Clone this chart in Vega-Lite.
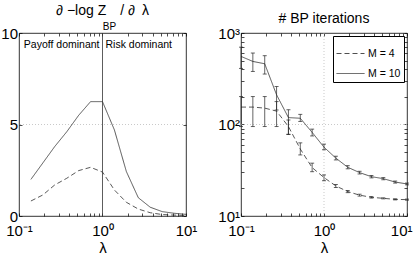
{
  "$schema": "https://vega.github.io/schema/vega-lite/v6.json",
  "padding": {"left": 0, "top": 3, "right": 0, "bottom": 0},
  "spacing": 55,
  "bounds": "flush",
  "resolve": {"scale": {"strokeDash": "independent"}, "legend": {"strokeDash": "independent"}},
  "config": {
    "font": "Liberation Sans",
    "view": {"stroke": "black", "strokeWidth": 0.8},
    "axis": {
      "domain": false,
      "grid": false,
      "ticks": true,
      "tickColor": "black",
      "tickSize": -3,
      "tickWidth": 0.7,
      "labelFont": "Liberation Sans",
      "labelFontSize": 15,
      "labelColor": "black",
      "labelFlush": false,
      "labelOverlap": false,
      "titleFont": "Liberation Sans",
      "titleFontSize": 15,
      "titleFontWeight": "normal",
      "titleColor": "black"
    },
    "axisX": {"labelPadding": 10, "titlePadding": 2},
    "axisY": {"labelPadding": 4.5},
    "title": {
      "font": "Liberation Sans",
      "fontSize": 14,
      "fontWeight": "normal",
      "color": "black",
      "subtitleFont": "Liberation Sans",
      "subtitleFontSize": 10,
      "subtitleColor": "black"
    }
  },
  "datasets": {
    "left": [
      {"lambda": 0.1389, "M": "M = 10", "value": 2.0},
      {"lambda": 0.1931, "M": "M = 10", "value": 2.9},
      {"lambda": 0.2683, "M": "M = 10", "value": 3.8},
      {"lambda": 0.3728, "M": "M = 10", "value": 4.6},
      {"lambda": 0.5179, "M": "M = 10", "value": 5.5},
      {"lambda": 0.7197, "M": "M = 10", "value": 6.25},
      {"lambda": 1.0, "M": "M = 10", "value": 6.25},
      {"lambda": 1.3895, "M": "M = 10", "value": 4.7},
      {"lambda": 1.9307, "M": "M = 10", "value": 2.43},
      {"lambda": 2.6827, "M": "M = 10", "value": 1.0},
      {"lambda": 3.7276, "M": "M = 10", "value": 0.48},
      {"lambda": 5.1795, "M": "M = 10", "value": 0.24},
      {"lambda": 7.1969, "M": "M = 10", "value": 0.15},
      {"lambda": 10, "M": "M = 10", "value": 0.09},
      {"lambda": 0.1389, "M": "M = 4", "value": 0.82},
      {"lambda": 0.1931, "M": "M = 4", "value": 1.15},
      {"lambda": 0.2683, "M": "M = 4", "value": 1.7},
      {"lambda": 0.3728, "M": "M = 4", "value": 2.06},
      {"lambda": 0.5179, "M": "M = 4", "value": 2.48},
      {"lambda": 0.7197, "M": "M = 4", "value": 2.66},
      {"lambda": 1.0, "M": "M = 4", "value": 2.4},
      {"lambda": 1.3895, "M": "M = 4", "value": 1.42},
      {"lambda": 1.9307, "M": "M = 4", "value": 0.75},
      {"lambda": 2.6827, "M": "M = 4", "value": 0.38},
      {"lambda": 3.7276, "M": "M = 4", "value": 0.18},
      {"lambda": 5.1795, "M": "M = 4", "value": 0.08},
      {"lambda": 7.1969, "M": "M = 4", "value": 0.05},
      {"lambda": 10, "M": "M = 4", "value": 0.03}
    ],
    "right": [
      {"lambda": 0.1, "M": "M = 10", "value": 555, "lo": 410, "hi": 700},
      {"lambda": 0.1389, "M": "M = 10", "value": 489, "lo": 380, "hi": 604},
      {"lambda": 0.1931, "M": "M = 10", "value": 461, "lo": 356, "hi": 565},
      {"lambda": 0.2683, "M": "M = 10", "value": 211, "lo": 144, "hi": 260},
      {"lambda": 0.3728, "M": "M = 10", "value": 119, "lo": 78, "hi": 145},
      {"lambda": 0.5179, "M": "M = 10", "value": 117, "lo": 108, "hi": 129},
      {"lambda": 0.7197, "M": "M = 10", "value": 82, "lo": 75, "hi": 89},
      {"lambda": 1.0, "M": "M = 10", "value": 56.5, "lo": 53, "hi": 61},
      {"lambda": 1.3895, "M": "M = 10", "value": 42.9, "lo": 41, "hi": 45},
      {"lambda": 1.9307, "M": "M = 10", "value": 34.1, "lo": 32.8, "hi": 35.5},
      {"lambda": 2.6827, "M": "M = 10", "value": 29.8, "lo": 28.8, "hi": 30.8},
      {"lambda": 3.7276, "M": "M = 10", "value": 26.9, "lo": 26.1, "hi": 27.7},
      {"lambda": 5.1795, "M": "M = 10", "value": 25.6, "lo": 24.9, "hi": 26.3},
      {"lambda": 7.1969, "M": "M = 10", "value": 23.5, "lo": 22.9, "hi": 24.1},
      {"lambda": 10, "M": "M = 10", "value": 22.4, "lo": 21.9, "hi": 22.9},
      {"lambda": 0.1, "M": "M = 4", "value": 155, "lo": 95, "hi": 202},
      {"lambda": 0.1389, "M": "M = 4", "value": 155, "lo": 95, "hi": 202},
      {"lambda": 0.1931, "M": "M = 4", "value": 151, "lo": 95, "hi": 202},
      {"lambda": 0.2683, "M": "M = 4", "value": 140, "lo": 95, "hi": 178},
      {"lambda": 0.3728, "M": "M = 4", "value": 95, "lo": 78, "hi": 112},
      {"lambda": 0.5179, "M": "M = 4", "value": 54, "lo": 46.5, "hi": 63},
      {"lambda": 0.7197, "M": "M = 4", "value": 33.8, "lo": 30.5, "hi": 37.8},
      {"lambda": 1.0, "M": "M = 4", "value": 26.3, "lo": 24.3, "hi": 28.1},
      {"lambda": 1.3895, "M": "M = 4", "value": 21.3, "lo": 20.5, "hi": 22.1},
      {"lambda": 1.9307, "M": "M = 4", "value": 18.5, "lo": 18, "hi": 19},
      {"lambda": 2.6827, "M": "M = 4", "value": 16.9, "lo": 16.5, "hi": 17.3},
      {"lambda": 3.7276, "M": "M = 4", "value": 16.0, "lo": 15.7, "hi": 16.3},
      {"lambda": 5.1795, "M": "M = 4", "value": 15.6, "lo": 15.4, "hi": 15.8},
      {"lambda": 7.1969, "M": "M = 4", "value": 15.2, "lo": 15.0, "hi": 15.4},
      {"lambda": 10, "M": "M = 4", "value": 15.1, "lo": 14.9, "hi": 15.3}
    ]
  },
  "hconcat": [
    {
      "title": {"text": "∂ −log Z\u2003/ ∂\u2002λ", "subtitle": "\u2800\u2800BP", "subtitlePadding": 4, "offset": -6, "frame": "group"},
      "width": 167,
      "height": 183,
      "resolve": {"axis": {"x": "independent", "y": "independent"}},
      "layer": [
        {
          "data": {"values": [{}]},
          "mark": {"type": "rule", "stroke": "#bbbbbb", "strokeWidth": 0.8, "strokeDash": [1, 2]},
          "encoding": {"y": {"datum": 5, "type": "quantitative", "axis": {"orient": "right", "labels": false, "title": null, "values": [0, 5, 10]}}}
        },
        {
          "data": {"name": "left"},
          "mark": {"type": "line", "stroke": "#222222", "strokeWidth": 0.75, "clip": true},
          "encoding": {
            "x": {
              "field": "lambda", "type": "quantitative",
              "scale": {"type": "log", "domain": [0.1, 10]},
              "axis": {
                "orient": "bottom",
                "title": "λ",
                "values": [0.1, 0.2, 0.3, 0.4, 0.5, 0.6, 0.7, 0.8, 0.9, 1, 2, 3, 4, 5, 6, 7, 8, 9, 10],
                "labelExpr": "datum.value == 0.1 ? '10⁻¹' : datum.value == 1 ? '10⁰' : datum.value == 10 ? '10¹' : ''"
              }
            },
            "y": {
              "field": "value", "type": "quantitative",
              "scale": {"domain": [0, 10]},
              "axis": {"orient": "left", "title": null, "values": [0, 5, 10]}
            },
            "strokeDash": {
              "field": "M", "type": "nominal",
              "scale": {"domain": ["M = 4", "M = 10"], "range": [[5, 3], [1, 0]]},
              "legend": null
            }
          }
        },
        {
          "data": {"values": [{}]},
          "mark": {"type": "rule", "stroke": "#333333", "strokeWidth": 0.8},
          "encoding": {"x": {"datum": 1, "type": "quantitative", "axis": {"orient": "top", "labels": false, "title": null, "values": [0.1, 0.2, 0.3, 0.4, 0.5, 0.6, 0.7, 0.8, 0.9, 1, 2, 3, 4, 5, 6, 7, 8, 9, 10]}}}
        },
        {
          "data": {"values": [{}]},
          "mark": {"type": "text", "align": "right", "baseline": "middle", "fontSize": 10.5, "font": "Liberation Sans", "color": "black", "dx": -3},
          "encoding": {"x": {"datum": 1, "type": "quantitative", "axis": null}, "y": {"datum": 9.35, "type": "quantitative", "axis": null}, "text": {"value": "Payoff dominant"}}
        },
        {
          "data": {"values": [{}]},
          "mark": {"type": "text", "align": "left", "baseline": "middle", "fontSize": 10.5, "font": "Liberation Sans", "color": "black", "dx": 3},
          "encoding": {"x": {"datum": 1, "type": "quantitative", "axis": null}, "y": {"datum": 9.35, "type": "quantitative", "axis": null}, "text": {"value": "Risk dominant"}}
        }
      ]
    },
    {
      "title": {"text": "# BP iterations", "offset": 0},
      "width": 166,
      "height": 183,
      "resolve": {"axis": {"x": "independent", "y": "independent"}},
      "layer": [
        {
          "data": {"values": [{}]},
          "mark": {"type": "rule", "stroke": "#bbbbbb", "strokeWidth": 0.8, "strokeDash": [1, 2]},
          "encoding": {"y": {"datum": 100, "type": "quantitative", "axis": {"orient": "right", "labels": false, "title": null, "values": [10, 20, 30, 40, 50, 60, 70, 80, 90, 100, 200, 300, 400, 500, 600, 700, 800, 900, 1000]}}}
        },
        {
          "data": {"values": [{}]},
          "mark": {"type": "rule", "stroke": "#bbbbbb", "strokeWidth": 0.8, "strokeDash": [1, 2]},
          "encoding": {"x": {"datum": 1, "type": "quantitative", "axis": {"orient": "top", "labels": false, "title": null, "values": [0.1, 0.2, 0.3, 0.4, 0.5, 0.6, 0.7, 0.8, 0.9, 1, 2, 3, 4, 5, 6, 7, 8, 9, 10]}}}
        },
        {
          "data": {"name": "right"},
          "mark": {"type": "errorbar", "color": "#222222", "ticks": {"size": 4, "strokeWidth": 0.7}, "rule": {"strokeWidth": 0.7}},
          "encoding": {
            "x": {"field": "lambda", "type": "quantitative", "axis": null},
            "y": {"field": "lo", "type": "quantitative", "axis": null},
            "y2": {"field": "hi"}
          }
        },
        {
          "data": {"name": "right"},
          "mark": {"type": "line", "stroke": "#222222", "strokeWidth": 0.75, "clip": true},
          "encoding": {
            "x": {
              "field": "lambda", "type": "quantitative",
              "scale": {"type": "log", "domain": [0.1, 10]},
              "axis": {
                "orient": "bottom",
                "title": "λ",
                "values": [0.1, 0.2, 0.3, 0.4, 0.5, 0.6, 0.7, 0.8, 0.9, 1, 2, 3, 4, 5, 6, 7, 8, 9, 10],
                "labelExpr": "datum.value == 0.1 ? '10⁻¹' : datum.value == 1 ? '10⁰' : datum.value == 10 ? '10¹' : ''",
                "labelAlign": {"condition": {"test": "datum.value == 10", "value": "right"}, "value": "center"},
                "labelOffset": {"condition": {"test": "datum.value == 10", "value": 5}, "value": 0}
              }
            },
            "y": {
              "field": "value", "type": "quantitative",
              "scale": {"type": "log", "domain": [10, 1000]},
              "axis": {
                "orient": "left",
                "title": null,
                "values": [10, 20, 30, 40, 50, 60, 70, 80, 90, 100, 200, 300, 400, 500, 600, 700, 800, 900, 1000],
                "labelExpr": "datum.value == 10 ? '10¹' : datum.value == 100 ? '10²' : datum.value == 1000 ? '10³' : ''"
              }
            },
            "strokeDash": {
              "field": "M", "type": "nominal",
              "scale": {"domain": ["M = 4", "M = 10"], "range": [[5, 3], [1, 0]]},
              "legend": {
                "title": null,
                "orient": "top-right",
                "offset": 3,
                "symbolType": "stroke",
                "symbolSize": 784,
                "symbolStrokeColor": "#222222",
                "symbolStrokeWidth": 0.8,
                "labelFont": "Liberation Sans",
                "labelFontSize": 10.5,
                "labelColor": "black",
                "strokeColor": "black",
                "fillColor": "white",
                "padding": 3,
                "rowPadding": 0,
                "labelOffset": 3
              }
            }
          }
        }
      ]
    }
  ]
}
